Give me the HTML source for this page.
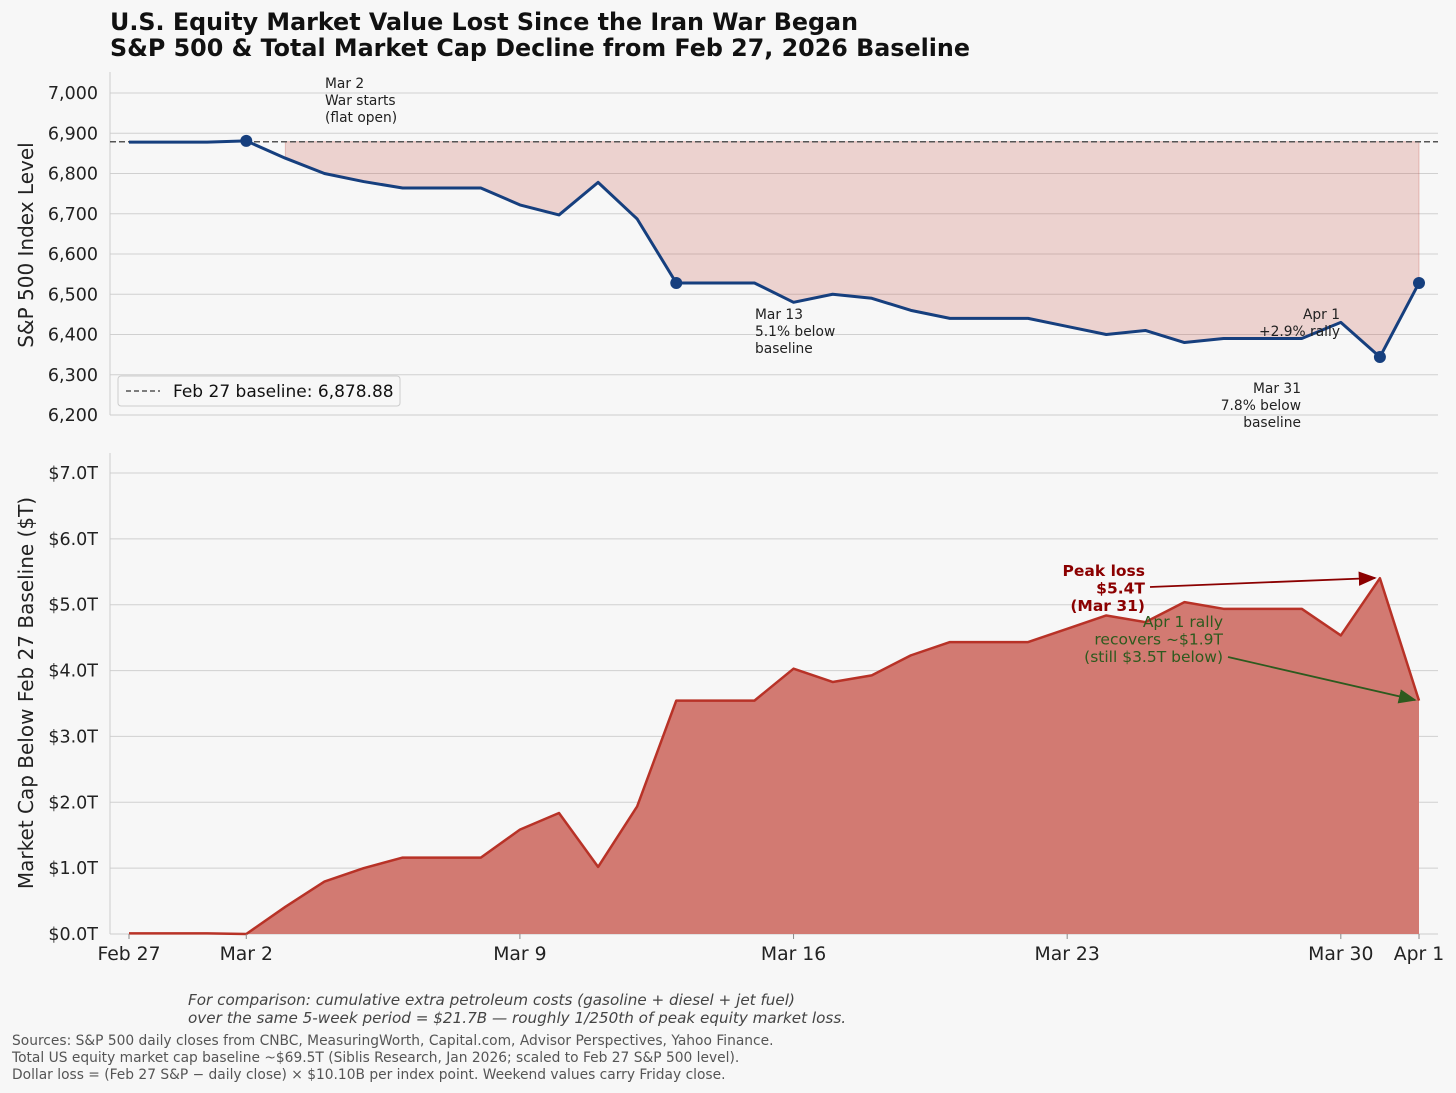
<!DOCTYPE html>
<html><head><meta charset="utf-8">
<style>
html,body{margin:0;padding:0;background:#f7f7f7;}
svg{display:block;font-family:"DejaVu Sans","Liberation Sans",sans-serif;}
</style></head>
<body>
<svg id="chart" width="1456" height="1093" viewBox="0 0 1456 1093">
<rect width="1456" height="1093" fill="#f7f7f7"/>
<text x="110" y="30" font-size="23.8" font-weight="bold" fill="#111">U.S. Equity Market Value Lost Since the Iran War Began</text>
<text x="110" y="56" font-size="23.8" font-weight="bold" fill="#111">S&amp;P 500 &amp; Total Market Cap Decline from Feb 27, 2026 Baseline</text>
<g id="topPanel"></g>
<g id="botPanel"></g>
<text transform="translate(33,245) rotate(-90)" text-anchor="middle" font-size="20" fill="#222">S&amp;P 500 Index Level</text>
<text transform="translate(33,693) rotate(-90)" text-anchor="middle" font-size="20" fill="#222">Market Cap Below Feb 27 Baseline ($T)</text>
<g font-size="13.8" fill="#222">
<text x="325" y="88"><tspan x="325">Mar 2</tspan><tspan x="325" dy="17">War starts</tspan><tspan x="325" dy="17">(flat open)</tspan></text>
<text x="755" y="319"><tspan x="755">Mar 13</tspan><tspan x="755" dy="17">5.1% below</tspan><tspan x="755" dy="17">baseline</tspan></text>
<text x="1340" y="319" text-anchor="end"><tspan x="1340">Apr 1</tspan><tspan x="1340" dy="17">+2.9% rally</tspan></text>
<text x="1301" y="393" text-anchor="end"><tspan x="1301">Mar 31</tspan><tspan x="1301" dy="17">7.8% below</tspan><tspan x="1301" dy="17">baseline</tspan></text>
</g>
<g>
<rect x="118" y="376" width="282" height="30" rx="3" fill="#f7f7f7" stroke="#ccc"/>
<line x1="126" y1="391" x2="160" y2="391" stroke="#555" stroke-width="1.5" stroke-dasharray="5,3"/>
<text x="173" y="397" font-size="17" fill="#111">Feb 27 baseline: 6,878.88</text>
</g>
<defs>
<marker id="arR" markerWidth="10" markerHeight="8" refX="9" refY="4" orient="auto"><path d="M0,0 L10,4 L0,8 z" fill="#8b0000"/></marker>
<marker id="arG" markerWidth="10" markerHeight="8" refX="9" refY="4" orient="auto"><path d="M0,0 L10,4 L0,8 z" fill="#2d5a1e"/></marker>
</defs>
<g id="annoLayer">
<g>
<text x="1145" y="576" text-anchor="end" font-size="15.5" font-weight="bold" fill="#8b0000"><tspan x="1145">Peak loss</tspan><tspan x="1145" dy="17.5">$5.4T</tspan><tspan x="1145" dy="17.5">(Mar 31)</tspan></text>
<line x1="1150" y1="587" x2="1375" y2="578" stroke="#8b0000" stroke-width="1.8" marker-end="url(#arR)"/>
</g>
<g>
<text x="1223" y="627" text-anchor="end" font-size="15.5" fill="#2d5a1e"><tspan x="1223">Apr 1 rally</tspan><tspan x="1223" dy="17.5">recovers ~$1.9T</tspan><tspan x="1223" dy="17.5">(still $3.5T below)</tspan></text>
<line x1="1228" y1="657" x2="1415" y2="700" stroke="#2d5a1e" stroke-width="1.8" marker-end="url(#arG)"/>
</g>
</g>
<text x="188" y="1005" font-size="15.2" font-style="italic" fill="#444"><tspan x="188">For comparison: cumulative extra petroleum costs (gasoline + diesel + jet fuel)</tspan><tspan x="188" dy="18">over the same 5-week period = $21.7B — roughly 1/250th of peak equity market loss.</tspan></text>
<text x="12" y="1045" font-size="13.8" fill="#555"><tspan x="12">Sources: S&amp;P 500 daily closes from CNBC, MeasuringWorth, Capital.com, Advisor Perspectives, Yahoo Finance.</tspan><tspan x="12" dy="17">Total US equity market cap baseline ~$69.5T (Siblis Research, Jan 2026; scaled to Feb 27 S&amp;P 500 level).</tspan><tspan x="12" dy="17">Dollar loss = (Feb 27 S&amp;P − daily close) × $10.10B per index point. Weekend values carry Friday close.</tspan></text>
</svg>
<script>
const baseline = 6878.88;
const spClose = [6878,6878,6878,6881,6838,6800,6780,6764,6764,6764,6722,6697,6778,6687,6528,6528,6528,6480,6500,6490,6460,6440,6440,6440,6420,6400,6410,6380,6390,6390,6390,6430,6344,6528];
const dollarPerPoint = 10.10;
const markerDays = [3,14,32,33];
const topTicks = [6200,6300,6400,6500,6600,6700,6800,6900,7000];
const botTicks = [0,1,2,3,4,5,6,7];
const xTickDays = [0,3,10,17,24,31,33];
const xTickLabels = ["Feb 27","Mar 2","Mar 9","Mar 16","Mar 23","Mar 30","Apr 1"];

const NS = "http://www.w3.org/2000/svg";
const X0 = 110, X1 = 1438;
const xs = d => 129 + d * (1419 - 129) / 33;
const yTop = v => 93 + (7000 - v) * (415 - 93) / 800;
const yBot = v => 934 - v * (934 - 473) / 7;
function mk(parent, tag, attrs){const e=document.createElementNS(NS,tag);for(const k in attrs)e.setAttribute(k,attrs[k]);parent.appendChild(e);return e;}
const topG = document.getElementById('topPanel'), botG = document.getElementById('botPanel');

topTicks.forEach(t=>{
  const g = mk(topG,'line',{x1:X0,x2:X1,y1:yTop(t),y2:yTop(t),stroke:'#d0d0d0','stroke-width':1});
  
  
  const lb = mk(topG,'text',{x:98,y:yTop(t)+6,'text-anchor':'end','font-size':17.5,fill:'#222'});
  lb.textContent = t.toLocaleString('en-US');
  
  
});
mk(topG,'line',{x1:X0,x2:X0,y1:72,y2:415,stroke:'#ccc'});
mk(topG,'line',{x1:X0,x2:X1,y1:415,y2:415,stroke:'#ccc'});

let fp = `M${xs(4)},${yTop(baseline)}`;
for(let d=4; d<spClose.length; d++) fp += ` L${xs(d)},${yTop(Math.min(spClose[d],baseline))}`;
fp += ` L${xs(spClose.length-1)},${yTop(baseline)} Z`;
const tf = mk(topG,'path',{d:fp,fill:'rgba(200,80,70,0.22)',stroke:'rgba(200,80,70,0.3)'});



const bl = mk(topG,'line',{x1:X0,x2:X1,y1:yTop(baseline),y2:yTop(baseline),stroke:'#555','stroke-width':1.5,'stroke-dasharray':'6,3'});



const sl = mk(topG,'polyline',{points:spClose.map((v,d)=>`${xs(d)},${yTop(v)}`).join(' '),fill:'none',stroke:'#163f7e','stroke-width':3,'stroke-linejoin':'round'});


markerDays.forEach(d=>{
  const c = mk(topG,'circle',{cx:xs(d),cy:yTop(spClose[d]),r:6,fill:'#163f7e'});
  
  
});

const loss = spClose.map(v=>Math.max(0,(baseline-v)*dollarPerPoint/1000));
botTicks.forEach(t=>{
  const g = mk(botG,'line',{x1:X0,x2:X1,y1:yBot(t),y2:yBot(t),stroke:'#d0d0d0','stroke-width':1});
  
  
  const lb = mk(botG,'text',{x:98,y:yBot(t)+6,'text-anchor':'end','font-size':17.5,fill:'#222'});
  lb.textContent = '$'+t.toFixed(1)+'T';
  
  
});
mk(botG,'line',{x1:X0,x2:X0,y1:453,y2:934,stroke:'#ccc'});
mk(botG,'line',{x1:X0,x2:X1,y1:934,y2:934,stroke:'#ccc'});
let ap = `M${xs(0)},${yBot(0)}`;
loss.forEach((v,d)=>ap+=` L${xs(d)},${yBot(v)}`);
ap += ` L${xs(loss.length-1)},${yBot(0)} Z`;
const ba = mk(botG,'path',{d:ap,fill:'#d27a72',stroke:'none'});


const bln = mk(botG,'polyline',{points:loss.map((v,d)=>`${xs(d)},${yBot(v)}`).join(' '),fill:'none',stroke:'#b83227','stroke-width':2.5,'stroke-linejoin':'round'});



xTickDays.forEach((d,i)=>{
  mk(botG,'line',{x1:xs(d),x2:xs(d),y1:934,y2:939,stroke:'#888'});
  const lb = mk(botG,'text',{x:xs(d),y:960,'text-anchor':'middle','font-size':18.8,fill:'#222'});
  lb.textContent = xTickLabels[i];
  
  
});
</script>
</body></html>
